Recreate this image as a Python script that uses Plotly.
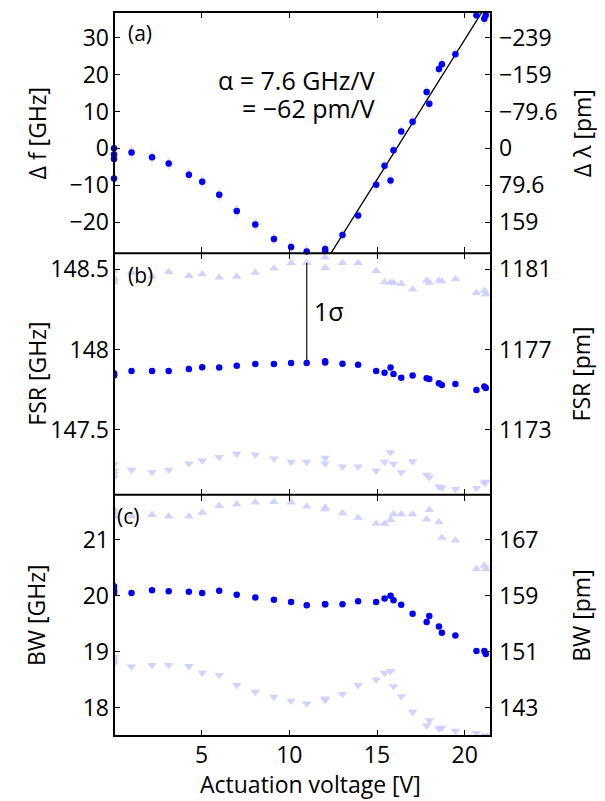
import plotly.graph_objects as go
from plotly.subplots import make_subplots

# ---------------- data ----------------
voltage = [0, 0, 0, 0, 1.0, 2.17, 3.12, 4.27, 5.03, 6.0, 7.0, 8.06, 9.12, 10.1, 10.99,
           12.04, 12.04, 13.03, 13.92, 14.95, 15.43, 15.77, 15.94, 16.38, 17.03, 17.83,
           17.98, 18.53, 18.7, 19.47, 20.67, 21.12, 21.2]

delta_f = [0, -1.7, -2.9, -8.2, -1.1, -2.4, -4.1, -7.2, -9.1, -12.6, -17.0, -20.7, -24.6,
           -26.8, -28.0, -27.3, -27.9, -23.5, -18.2, -9.9, -4.7, -8.7, -0.5, 4.6, 7.2,
           15.3, 12.1, 21.5, 22.8, 25.5, 36.1, 35.2, 36.1]

fsr = [147.852, 147.847, 147.842, 147.838, 147.867, 147.867, 147.867, 147.879, 147.89,
       147.888, 147.9, 147.91, 147.91, 147.917, 147.917, 147.927, 147.919, 147.912,
       147.906, 147.867, 147.856, 147.888, 147.848, 147.825, 147.838, 147.821, 147.817,
       147.79, 147.78, 147.785, 147.748, 147.77, 147.76]
fsr_upper = [148.49, 148.45, 148.42, 148.44, 148.48, 148.455, 148.485, 148.46, 148.47,
             148.45, 148.455, 148.48, 148.506, 148.54, 148.54, 148.575, 148.51, 148.54,
             148.54, 148.49, 148.42, 148.417, 148.417, 148.41, 148.375, 148.43, 148.417,
             148.43, 148.425, 148.44, 148.354, 148.367, 148.345]
fsr_lower = [147.287, 147.246, 147.204, 147.225, 147.25, 147.235, 147.25, 147.29, 147.308,
             147.33, 147.35, 147.346, 147.32, 147.3, 147.3, 147.325, 147.29, 147.27,
             147.27, 147.246, 147.3, 147.36, 147.288, 147.235, 147.304, 147.22, 147.204,
             147.146, 147.14, 147.13, 147.137, 147.17, 147.175]

bw = [20.17, 20.05, 20.1, 20.08, 20.05, 20.1, 20.08, 20.07, 20.05, 20.09, 20.02, 19.97,
      19.93, 19.89, 19.83, 19.85, 19.85, 19.85, 19.9, 19.89, 19.95, 20.0, 19.92, 19.84,
      19.68, 19.53, 19.64, 19.45, 19.34, 19.29, 19.01, 19.01, 18.96]
bw_upper = [21.55, 21.42, 21.5, 21.45, 21.43, 21.45, 21.42, 21.42, 21.49, 21.61, 21.64,
            21.67, 21.68, 21.67, 21.6, 21.58, 21.55, 21.48, 21.4, 21.29, 21.29, 21.36,
            21.46, 21.46, 21.46, 21.37, 21.54, 21.32, 21.04, 20.99, 20.48, 20.54, 20.48]
bw_lower = [18.9, 18.79, 18.85, 18.8, 18.73, 18.76, 18.76, 18.74, 18.62, 18.58, 18.4,
            18.28, 18.19, 18.12, 18.07, 18.16, 18.13, 18.24, 18.4, 18.5, 18.62, 18.65,
            18.38, 18.2, 17.92, 17.68, 17.77, 17.62, 17.64, 17.58, 17.54, 17.48, 17.5]

fit_slope = 7.6          # GHz/V
fit_intercept = -122.5   # GHz
fit_v = [12.0, 21.5]

# tick values/labels
x_ticks = [5, 10, 15, 20]
a_ticks = [30, 20, 10, 0, -10, -20]
a_ticks_pm = ["\u2212239", "\u2212159", "\u221279.6", "0", "79.6", "159"]
b_ticks = [148.5, 148, 147.5]
b_ticks_pm = ["1181", "1177", "1173"]
c_ticks = [21, 20, 19, 18]
c_ticks_pm = ["167", "159", "151", "143"]

ranges = {1: [-28.5, 37.0], 2: [147.096, 148.6], 3: [17.49, 21.81]}

# ---------------- figure ----------------
FONT = "Open Sans"
FS = 23
BLUE = "#0000f5"
LIGHT = "rgba(205,205,255,0.9)"
HALO = "rgba(215,215,255,0.8)"

fig = make_subplots(rows=3, cols=1, shared_xaxes=True, vertical_spacing=0,
                    specs=[[{"secondary_y": True}]] * 3)

# panel a
fig.add_trace(go.Scatter(x=voltage, y=delta_f, mode="markers",
                         marker=dict(symbol="diamond-tall", size=10, color=HALO),
                         hoverinfo="skip", showlegend=False), row=1, col=1)
fig.add_trace(go.Scatter(x=fit_v, y=[fit_slope * v + fit_intercept for v in fit_v],
                         mode="lines", line=dict(color="black", width=1.3),
                         showlegend=False), row=1, col=1)
fig.add_trace(go.Scatter(x=voltage, y=delta_f, mode="markers",
                         marker=dict(size=6.5, color=BLUE), showlegend=False,
                         cliponaxis=False), row=1, col=1)

# panel b
fig.add_trace(go.Scatter(x=voltage, y=fsr_upper, mode="markers",
                         marker=dict(symbol="triangle-up", size=8.5, color=LIGHT),
                         showlegend=False), row=2, col=1)
fig.add_trace(go.Scatter(x=voltage, y=fsr_lower, mode="markers",
                         marker=dict(symbol="triangle-down", size=8.5, color=LIGHT),
                         showlegend=False), row=2, col=1)
fig.add_trace(go.Scatter(x=[voltage[14], voltage[14]], y=[fsr[14], fsr_upper[14]],
                         mode="lines", line=dict(color="#222222", width=1.3),
                         showlegend=False), row=2, col=1)
fig.add_trace(go.Scatter(x=voltage, y=fsr, mode="markers",
                         marker=dict(size=6.5, color=BLUE), showlegend=False), row=2, col=1)

# panel c
fig.add_trace(go.Scatter(x=voltage, y=bw_upper, mode="markers",
                         marker=dict(symbol="triangle-up", size=8.5, color=LIGHT),
                         showlegend=False), row=3, col=1)
fig.add_trace(go.Scatter(x=voltage, y=bw_lower, mode="markers",
                         marker=dict(symbol="triangle-down", size=8.5, color=LIGHT),
                         showlegend=False), row=3, col=1)
fig.add_trace(go.Scatter(x=voltage, y=bw, mode="markers",
                         marker=dict(size=6.5, color=BLUE), showlegend=False), row=3, col=1)

# empty traces on secondary axes so they render
for r in (1, 2, 3):
    fig.add_trace(go.Scatter(x=[None], y=[None], showlegend=False, hoverinfo="skip"),
                  row=r, col=1, secondary_y=True)

tfont = dict(family=FONT, size=FS, color="black")
axis_common = dict(showline=False, ticks="inside", ticklen=6, tickwidth=1.3,
                   tickcolor="black", showgrid=False, zeroline=False, tickfont=tfont,
                   automargin=False)

for r in (1, 2, 3):
    fig.update_xaxes(range=[0, 21.5], tickvals=x_ticks, mirror="ticks", domain=[0, 1],
                     showticklabels=(r == 3), row=r, col=1, **axis_common)
fig.update_xaxes(ticklabelstandoff=3, row=3, col=1)

left_ticks = {1: a_ticks, 2: b_ticks, 3: c_ticks}
left_text = {1: [str(t).replace("-", "\u2212") for t in a_ticks],
             2: [f"{t:g}" for t in b_ticks], 3: [str(t) for t in c_ticks]}
right_text = {1: a_ticks_pm, 2: b_ticks_pm, 3: c_ticks_pm}

for r in (1, 2, 3):
    fig.update_yaxes(range=ranges[r], tickvals=left_ticks[r], ticktext=left_text[r],
                     mirror="ticks", row=r, col=1, secondary_y=False,
                     ticklabelstandoff=4, **axis_common)
    fig.update_yaxes(range=ranges[r], tickvals=left_ticks[r], ticktext=right_text[r],
                     row=r, col=1, secondary_y=True, showline=False, ticks="",
                     showgrid=False, zeroline=False, tickfont=tfont, automargin=False,
                     ticklabelstandoff=7)

# frame lines
frame = dict(color="black", width=2)
fig.add_shape(type="rect", xref="paper", yref="paper", x0=0, x1=1, y0=0, y1=1,
              line=frame)
for yy in (1 / 3, 2 / 3):
    fig.add_shape(type="line", xref="paper", yref="paper", x0=0, x1=1, y0=yy, y1=yy,
                  line=frame)

# axis titles as annotations
left_titles = ["\u0394 f [GHz]", "FSR [GHz]", "BW [GHz]"]
right_titles = ["\u0394 \u03bb [pm]", "FSR [pm]", "BW [pm]"]
centers = [5 / 6, 1 / 2, 1 / 6]
for lt, rt, yc in zip(left_titles, right_titles, centers):
    fig.add_annotation(text=lt, xref="paper", yref="paper", x=-0.205, y=yc,
                       textangle=-90, showarrow=False, font=tfont,
                       xanchor="center", yanchor="middle")
    fig.add_annotation(text=rt, xref="paper", yref="paper", x=1.24, y=yc,
                       textangle=-90, showarrow=False, font=tfont,
                       xanchor="center", yanchor="middle")
fig.add_annotation(text="Actuation voltage [V]", xref="paper", yref="paper",
                   x=0.52, y=-0.066, showarrow=False, font=tfont,
                   xanchor="center", yanchor="middle")

big = dict(family=FONT, size=25, color="black")
fig.add_annotation(text="\u03b1 = 7.6 GHz/V", xref="x", yref="y",
                   x=15.0, y=18.6, xanchor="right", yanchor="middle",
                   showarrow=False, font=big)
fig.add_annotation(text="= \u221262 pm/V", xref="x", yref="y",
                   x=15.0, y=11.0, xanchor="right", yanchor="middle",
                   showarrow=False, font=big)
fig.add_annotation(text="1\u03c3", xref="x3", yref="y3", x=11.3, y=148.24,
                   xanchor="left", yanchor="middle", showarrow=False, font=big)
for lab, xr, yr in (("(a)", "x domain", "y domain"), ("(b)", "x3 domain", "y3 domain"),
                    ("(c)", "x5 domain", "y5 domain")):
    fig.add_annotation(text=lab, xref=xr, yref=yr, x=0.032, y=0.912, xanchor="left",
                       yanchor="middle", showarrow=False,
                       font=dict(family=FONT, size=21, color="black"))

# the page adds an 8 px body margin (left/top), so the figure is 8 px smaller
fig.update_layout(width=597, height=793, plot_bgcolor="white", paper_bgcolor="white",
                  margin=dict(l=106, r=114, t=4, b=65), showlegend=False,
                  font=tfont)

fig.write_html("out.html")
